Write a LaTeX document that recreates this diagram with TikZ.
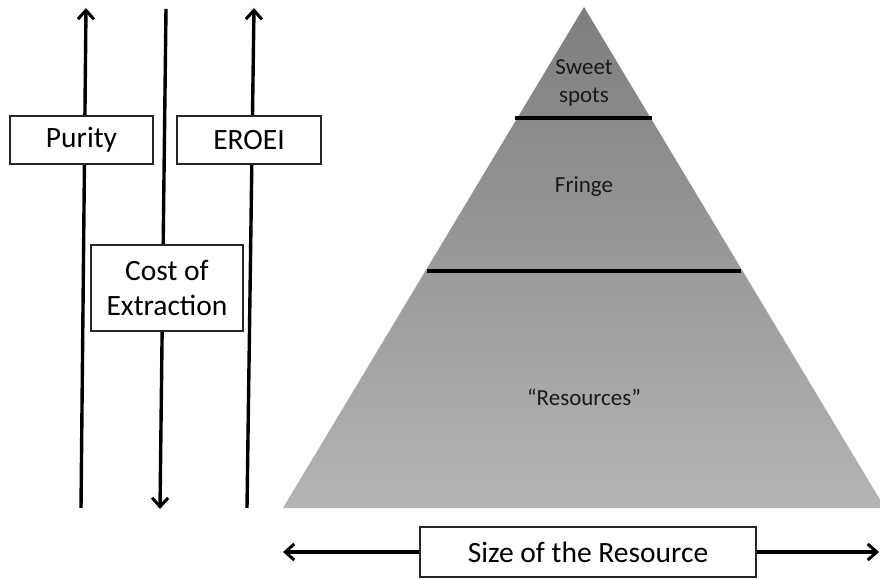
\documentclass[tikz,border=0pt]{standalone}
\usepackage{fontspec}
\setmainfont{Carlito}
\usetikzlibrary{arrows.meta}
\definecolor{pyrtop}{HTML}{7E7E7E}
\definecolor{pyrbot}{HTML}{B4B4B4}
\tikzset{
  axis/.style={line width=3.4pt, -{Straight Barb[length=9pt,width=16pt,line width=3pt]}},
  labelbox/.style={draw=black!85, line width=1.8pt, fill=white, inner sep=0pt, align=center, font=\fontsize{29.5}{35}\selectfont},
  pyrtext/.style={font=\fontsize{23}{28}\selectfont, align=center, text=black!90},
  divider/.style={line width=3.6pt},
}
\begin{document}
\begin{tikzpicture}[x=1pt,y=-1pt]
\useasboundingbox (0,0) rectangle (880,578);
\clip (0,0) rectangle (880,578);
% pyramid
\coordinate (apex) at (584,7);
\coordinate (bl) at (283,508);
\coordinate (br) at (885,508);
\shade[top color=pyrtop, bottom color=pyrbot] (apex) -- (br) -- (bl) -- cycle;
\coordinate (d1l) at (515,118); \coordinate (d1r) at (652,118);
\coordinate (d2l) at (427,271); \coordinate (d2r) at (741,271);
\draw[divider] (d1l) -- (d1r);
\draw[divider] (d2l) -- (d2r);
\node[pyrtext] (sweet) at (584,83) {Sweet\\spots};
\node[pyrtext] (fringe) at (584,187) {Fringe};
\node[pyrtext] (res) at (584,397) {“Resources”};
% vertical axes
\coordinate (p0) at (81,508); \coordinate (p1) at (86,8);
\coordinate (c0) at (166,9); \coordinate (c1) at (160,509);
\coordinate (e0) at (247,508); \coordinate (e1) at (254,8);
\draw[axis] (p0) -- (p1);
\draw[axis] (c0) -- (c1);
\draw[axis] (e0) -- (e1);
\node[labelbox, minimum width=143pt, minimum height=48pt] (purity) at (81.5,140) {Purity};
\node[labelbox, minimum width=144pt, minimum height=48pt] (eroei) at (249,140) {EROEI};
\node[labelbox, minimum width=152pt, minimum height=86pt] (cost) at (167,288) {Cost of\\Extraction};
% horizontal axis
\node[labelbox, minimum width=336pt, minimum height=50pt] (size) at (588,552) {Size of the Resource};
\coordinate (hl) at (283,552); \coordinate (hr) at (879,552);
\draw[axis] (size.west) -- (hl);
\draw[axis] (size.east) -- (hr);
\end{tikzpicture}
\end{document}
